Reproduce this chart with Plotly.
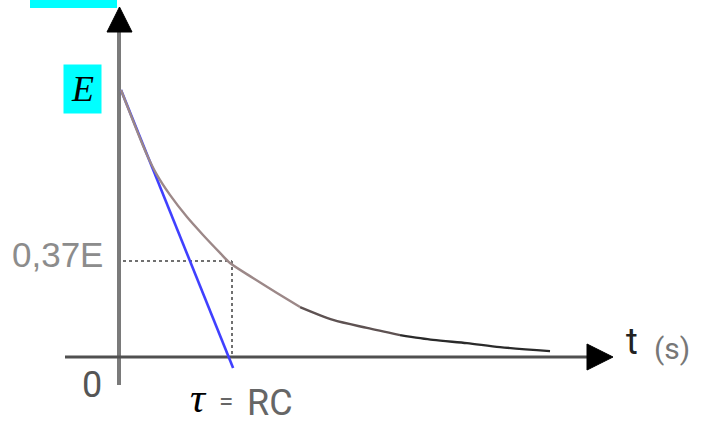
import plotly.graph_objects as go

# ---- data (t in units of tau, v in units of E) ----
t_head = [0.0, 0.234, 0.324, 0.441, 0.595, 0.739, 0.892, 0.982, 1.189, 1.405, 1.613]
v_head = [1.0, 0.757, 0.682, 0.607, 0.524, 0.457, 0.390, 0.352, 0.296, 0.240, 0.187]
t_mid = [1.613, 1.91, 2.216, 2.514]
v_mid = [0.187, 0.139, 0.109, 0.082]
t_tail = [2.514, 2.811, 3.117, 3.414, 3.865]
v_tail = [0.082, 0.064, 0.052, 0.037, 0.022]
t_tangent = [0.0, 1.01]
v_tangent = [1.0, -0.041]
tau = 1.0
level = 0.36

W, H = 707, 426
# pixel -> data helpers for decorations
def X(px):
    return (px - 121) / 111.0
def Y(py):
    return (357 - py) / 267.0

fig = go.Figure()

# axes lines
fig.add_trace(go.Scatter(x=[X(119), X(119)], y=[Y(385), Y(28)], mode="lines",
                         line=dict(color="#7a7a7a", width=4), hoverinfo="skip"))
fig.add_trace(go.Scatter(x=[X(65), X(592)], y=[0, 0], mode="lines",
                         line=dict(color="#505050", width=3), hoverinfo="skip"))
# arrowheads
fig.add_trace(go.Scatter(x=[X(107), X(132), X(119.5), X(107)], y=[Y(32), Y(32), Y(7), Y(32)],
                         mode="lines", fill="toself", fillcolor="#000000",
                         line=dict(color="#000000", width=1), hoverinfo="skip"))
fig.add_trace(go.Scatter(x=[X(587), X(587), X(613), X(587)], y=[Y(344), Y(370), Y(357), Y(344)],
                         mode="lines", fill="toself", fillcolor="#000000",
                         line=dict(color="#000000", width=1), hoverinfo="skip"))

# dotted guides
fig.add_trace(go.Scatter(x=[X(123), tau], y=[level, level], mode="lines",
                         line=dict(color="#707070", width=2, dash="dot"), hoverinfo="skip"))
fig.add_trace(go.Scatter(x=[tau, tau], y=[level, 0], mode="lines",
                         line=dict(color="#707070", width=2, dash="dot"), hoverinfo="skip"))

# tangent
fig.add_trace(go.Scatter(x=t_tangent, y=v_tangent, mode="lines",
                         line=dict(color="#4040ff", width=2.6), hoverinfo="skip"))
# curve
fig.add_trace(go.Scatter(x=t_head, y=v_head, mode="lines", line_shape="spline",
                         line=dict(color="#9c8888", width=2.4, smoothing=0.8), hoverinfo="skip"))
fig.add_trace(go.Scatter(x=t_mid, y=v_mid, mode="lines", line_shape="spline",
                         line=dict(color="#5e5252", width=2.4, smoothing=0.8), hoverinfo="skip"))
fig.add_trace(go.Scatter(x=t_tail, y=v_tail, mode="lines", line_shape="spline",
                         line=dict(color="#2a2a2a", width=2.4, smoothing=0.8), hoverinfo="skip"))

ann = []
ann.append(dict(x=X(82), y=Y(89), text="<i>E</i>", showarrow=False, bgcolor="#00ffff",
                width=35, height=46, font=dict(family="Liberation Serif", size=36, color="#000")))
ann.append(dict(x=X(105), y=Y(254), text="0,37E", xanchor="right", showarrow=False,
                font=dict(family="Liberation Sans", size=35, color="#8c8c8c")))
ann.append(dict(x=X(92), y=Y(385), text="0", showarrow=False,
                font=dict(family="Roboto", size=36, color="#555555")))
ann.append(dict(x=X(198), y=Y(398), text="<i>τ</i>", showarrow=False,
                font=dict(family="Liberation Serif", size=42, color="#000")))
ann.append(dict(x=X(226), y=Y(401), text="=", showarrow=False,
                font=dict(family="Roboto", size=26, color="#666666")))
ann.append(dict(x=X(270), y=Y(403), text="RC", showarrow=False,
                font=dict(family="Roboto", size=36, color="#666666")))
ann.append(dict(x=X(632), y=Y(342), text="t", showarrow=False,
                font=dict(family="Roboto", size=36, color="#222222")))
ann.append(dict(x=X(672), y=Y(348), text="(s)", showarrow=False,
                font=dict(family="Roboto", size=30, color="#777777")))

fig.update_layout(
    width=W, height=H, autosize=False,
    margin=dict(l=0, r=0, t=0, b=0),
    paper_bgcolor="white", plot_bgcolor="white",
    showlegend=False,
    xaxis=dict(range=[X(0), X(W)], visible=False, fixedrange=True),
    yaxis=dict(range=[Y(H), Y(0)], visible=False, fixedrange=True),
    annotations=ann,
    shapes=[dict(type="rect", xref="paper", yref="paper", x0=30 / W, x1=117 / W,
                 y0=1 - 8 / H, y1=1.0, fillcolor="#00ffff", line=dict(width=0))],
)

fig.write_html("out.html", config={"displayModeBar": False},
               post_script="document.body.style.margin='0px';document.body.style.overflow='hidden';")
